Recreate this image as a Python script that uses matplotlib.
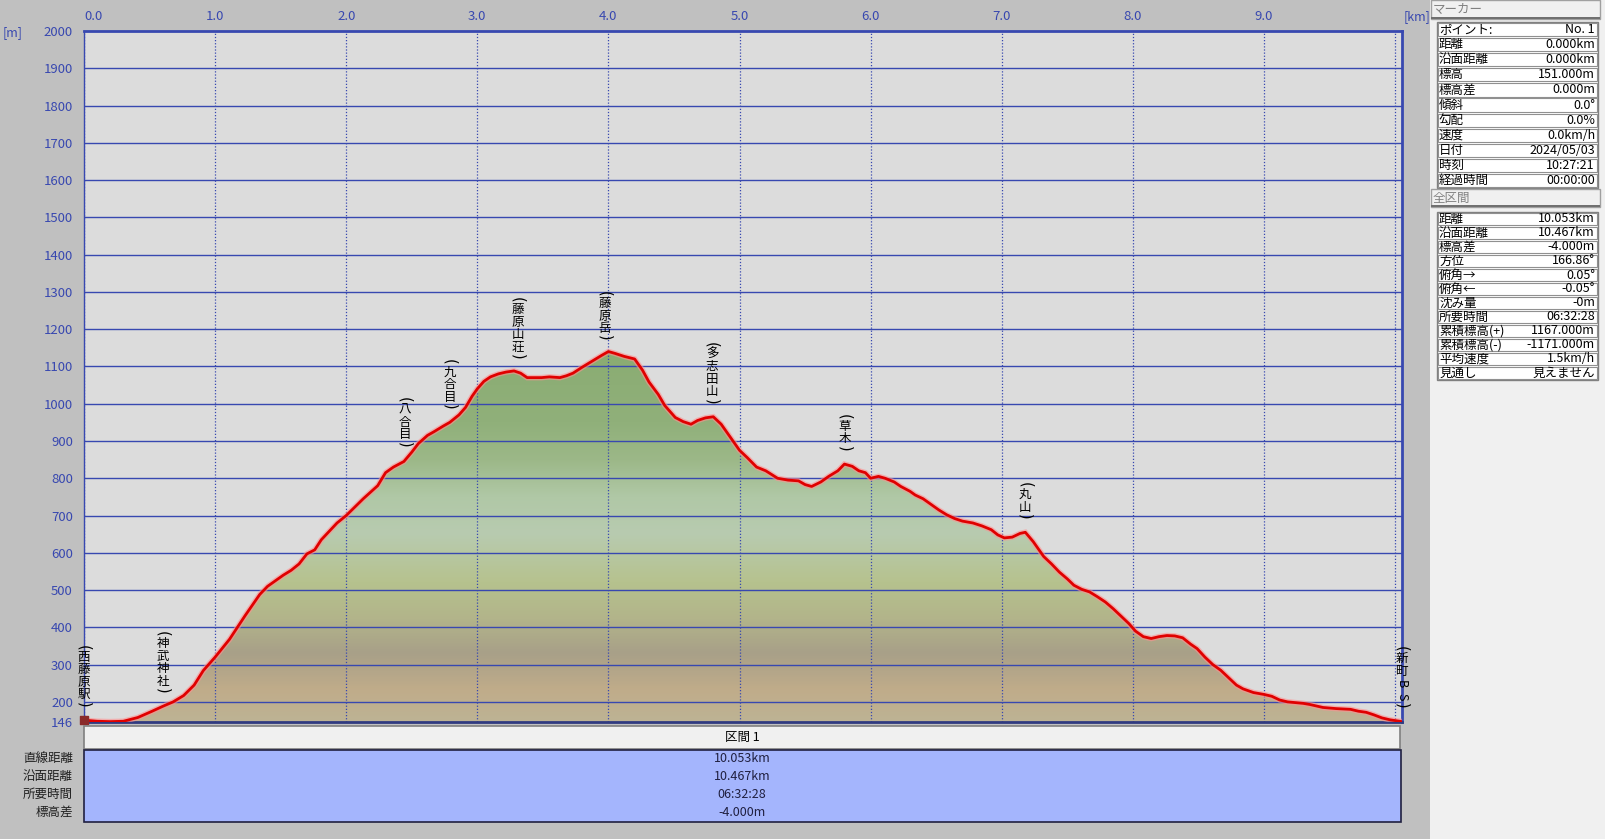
import numpy as np
import matplotlib
matplotlib.use('Agg')
import matplotlib.pyplot as plt
from matplotlib.colors import LinearSegmentedColormap, Normalize
from matplotlib.patches import Rectangle, Polygon

plt.rcParams['font.family'] = ['Noto Sans CJK JP', 'DejaVu Sans']

# ---------------- data ----------------
dist_km = [0.00, 0.10, 0.20, 0.30, 0.41, 0.52, 0.60, 0.68, 0.76, 0.84, 0.91, 1.00,
           1.11, 1.23, 1.34, 1.40, 1.46, 1.52, 1.58, 1.64, 1.70, 1.76, 1.81, 1.93,
           2.00, 2.13, 2.24, 2.30, 2.36, 2.44, 2.50, 2.55, 2.62, 2.67, 2.74, 2.79,
           2.86, 2.91, 2.96, 3.00, 3.05, 3.10, 3.16, 3.22, 3.28, 3.33, 3.38, 3.49,
           3.55, 3.63, 3.68, 3.73, 3.80, 3.88, 3.95, 4.00, 4.05, 4.12, 4.20, 4.26,
           4.31, 4.38, 4.43, 4.48, 4.51, 4.57, 4.63, 4.68, 4.74, 4.80, 4.86, 4.90,
           4.95, 5.00, 5.06, 5.13, 5.20, 5.29, 5.37, 5.45, 5.50, 5.55, 5.62, 5.68,
           5.75, 5.80, 5.86, 5.91, 5.96, 6.00, 6.06, 6.11, 6.18, 6.23, 6.30, 6.34,
           6.40, 6.46, 6.52, 6.58, 6.64, 6.70, 6.78, 6.85, 6.92, 6.97, 7.02, 7.08,
           7.14, 7.18, 7.24, 7.32, 7.38, 7.44, 7.50, 7.55, 7.61, 7.67, 7.73, 7.79,
           7.85, 7.91, 7.97, 8.02, 8.08, 8.14, 8.20, 8.26, 8.32, 8.38, 8.44, 8.49,
           8.55, 8.61, 8.67, 8.73, 8.79, 8.84, 8.92, 9.00, 9.06, 9.12, 9.18, 9.30,
           9.35, 9.45, 9.55, 9.66, 9.72, 9.78, 9.84, 9.90, 9.96, 10.053]
elev_m = [151, 148, 147, 148, 158, 175, 188, 200, 217, 245, 284, 320,
          368, 432, 488, 510, 525, 540, 553, 570, 597, 608, 635, 680,
          700, 745, 780, 815, 830, 845, 870, 893, 915, 925, 940, 950,
          970, 990, 1020, 1040, 1060, 1072, 1080, 1085, 1088, 1082, 1070, 1070,
          1072, 1070, 1075, 1082, 1098, 1115, 1130, 1140, 1135, 1127, 1120, 1090,
          1058, 1025, 995, 975, 963, 952, 945, 955, 962, 965, 945, 925,
          900, 875, 855, 830, 820, 800, 795, 793, 783, 778, 790, 805,
          820, 838, 832, 820, 815, 800, 805, 800, 790, 778, 765, 755,
          745, 730, 715, 702, 692, 685, 680, 672, 662, 648, 640, 642,
          652, 655, 630, 590, 570, 548, 530, 513, 502, 495, 482, 468,
          450, 430, 410, 390, 375, 370, 375, 378, 377, 372, 355, 343,
          320, 300, 285, 265, 245, 235, 225, 220, 215, 205, 200, 196,
          193, 185, 182, 180, 175, 172, 165, 157, 152, 147]

x_ticks = [0, 1, 2, 3, 4, 5, 6, 7, 8, 9]
x_tick_labels = ['0.0', '1.0', '2.0', '3.0', '4.0', '5.0', '6.0', '7.0', '8.0', '9.0']
y_ticks = [146, 200, 300, 400, 500, 600, 700, 800, 900, 1000, 1100, 1200, 1300,
           1400, 1500, 1600, 1700, 1800, 1900, 2000]
y_tick_labels = [str(v) for v in y_ticks]

waypoint_names = ['西藤原駅', '神武神社', '八合目', '九合目', '藤原山荘', '藤原岳',
                  '多志田山', '草木', '丸山', '新町BS']
waypoint_km = [0.0, 0.60, 2.45, 2.79, 3.31, 3.97, 4.79, 5.80, 7.18, 10.05]

section_title = '区間 1'
section_row_labels = ['直線距離', '沿面距離', '所要時間', '標高差']
section_values = ['10.053km', '10.467km', '06:32:28', '-4.000m']

marker_title = 'マーカー'
marker_labels = ['ポイント:', '距離', '沿面距離', '標高', '標高差', '傾斜', '勾配',
                 '速度', '日付', '時刻', '経過時間']
marker_values = ['No. 1', '0.000km', '0.000km', '151.000m', '0.000m', '0.0°', '0.0%',
                 '0.0km/h', '2024/05/03', '10:27:21', '00:00:00']

total_title = '全区間'
total_labels = ['距離', '沿面距離', '標高差', '方位', '俯角→', '俯角←', '沈み量',
                '所要時間', '累積標高(+)', '累積標高(-)', '平均速度', '見通し']
total_values = ['10.053km', '10.467km', '-4.000m', '166.86°', '0.05°', '-0.05°', '-0m',
                '06:32:28', '1167.000m', '-1171.000m', '1.5km/h', '見えません']

# ---------------- figure ----------------
W, H = 1605, 839
fig = plt.figure(figsize=(W / 100, H / 100), dpi=100, facecolor='#c0c0c0')


def fx(px):
    return px / W


def fy(py):
    return 1 - py / H


BLUE = '#3848b0'

L, R, T, B = 84, 1402, 31, 722
ax = fig.add_axes([fx(L), fy(B), (R - L) / W, (B - T) / H])
ax.set_facecolor('#dcdcdc')
xmax = dist_km[-1]
ymin, ymax = 146, 2000

# gradient fill under the profile
stops = [(146, '#bdb394'), (230, '#c0ac8a'), (330, '#a8a088'), (420, '#b2b48a'),
         (520, '#b6c28e'), (650, '#b8cbb0'), (750, '#b0c8a6'), (850, '#9cb888'),
         (950, '#90b07a'), (1150, '#8aac72')]
glo, ghi = stops[0][0], stops[-1][0]
cmap = LinearSegmentedColormap.from_list(
    'elev', [((e - glo) / (ghi - glo), c) for e, c in stops])
grad = np.linspace(glo, ghi, 600).reshape(-1, 1)
im = ax.imshow(grad, extent=[0, xmax, glo, ghi], origin='lower', aspect='auto',
               cmap=cmap, norm=Normalize(glo, ghi), zorder=1, interpolation='bilinear')
verts = list(zip(dist_km, elev_m)) + [(xmax, ymin), (0, ymin)]
clip = Polygon(verts, closed=True, facecolor='none', edgecolor='none',
               transform=ax.transData)
ax.add_patch(clip)
im.set_clip_path(clip)

# grid
for yv in y_ticks[1:-1]:
    ax.axhline(yv, color=BLUE, lw=1.0, zorder=2)
for xv in range(0, 11):
    ax.axvline(xv, color=BLUE, lw=0.9, ls=(0, (1, 1.5)), zorder=2)

# profile line with halo
ax.plot(dist_km, elev_m, color='#ff9090', lw=4.0, alpha=0.6, zorder=3,
        solid_joinstyle='miter')
ax.plot(dist_km, elev_m, color='#e00000', lw=2.0, zorder=4)

ax.set_xlim(0, xmax)
ax.set_ylim(ymin, ymax)

ax.set_yticks(y_ticks)
ax.set_yticklabels(y_tick_labels)
ax.xaxis.tick_top()
ax.set_xticks(x_ticks)
ax.set_xticklabels(x_tick_labels)
ax.tick_params(axis='both', length=0, colors=BLUE, labelsize=9.5)
ax.tick_params(axis='y', pad=8)
ax.tick_params(axis='x', pad=6)
ax.get_xticklabels()[0].set_horizontalalignment('left')
for lab in ax.get_xticklabels() + ax.get_yticklabels():
    lab.set_color(BLUE)

for s in ['top', 'right']:
    ax.spines[s].set_color(BLUE)
    ax.spines[s].set_linewidth(2.0)
ax.spines['left'].set_color(BLUE)
ax.spines['left'].set_linewidth(1.0)
ax.spines['bottom'].set_color('#303a80')
ax.spines['bottom'].set_linewidth(2.0)

fig.text(fx(3), fy(33), '[m]', color=BLUE, fontsize=9, va='center', ha='left')
fig.text(fx(1404), fy(17), '[km]', color=BLUE, fontsize=9, va='center', ha='left')

# start marker (hiker position)
ax.scatter([dist_km[0]], [elev_m[0]], marker='s', s=28, color='#8a2a2a',
           zorder=6, clip_on=False)


# vertical waypoint labels
def vlabel(xk, name):
    yk = float(np.interp(xk, dist_km, elev_m))
    items = ['('] + list(name) + [')']
    off = 12
    seq = []
    for ch in reversed(items):
        h = 7 if ch in '()' else 12.5
        seq.append((ch, off + h / 2))
        off += h
    for ch, yo in seq:
        if ch in '()':
            rot, fs = -90, 10.5
            fam = ['DejaVu Sans']
        elif ch.isascii():
            rot, fs = -90, 9
            fam = ['Noto Sans CJK JP', 'DejaVu Sans']
        else:
            rot, fs = 0, 9
            fam = ['Noto Sans CJK JP', 'DejaVu Sans']
        ax.annotate(ch, xy=(xk, yk), xytext=(0, yo), textcoords='offset pixels',
                    ha='center', va='center', rotation=rot, fontsize=fs,
                    color='black', zorder=7, annotation_clip=False, family=fam)


for nm, xk in zip(waypoint_names, waypoint_km):
    vlabel(xk, nm)

# ---------------- bottom section table ----------------
fig.patches.append(Rectangle((fx(84), fy(749)), (1400 - 84) / W, (749 - 726) / H,
                             transform=fig.transFigure, facecolor='#f0f0f0',
                             edgecolor='#808080', lw=1.2))
fig.text(fx(742), fy(737.5), section_title, fontsize=9, ha='center', va='center',
         color='black')
fig.patches.append(Rectangle((fx(84), fy(822)), (1401 - 84) / W, (822 - 750) / H,
                             transform=fig.transFigure, facecolor='#a4b5fd',
                             edgecolor='#202040', lw=1.2))
row_y = [758, 776.5, 794.5, 812]
for lab, val, yy in zip(section_row_labels, section_values, row_y):
    fig.text(fx(73), fy(yy), lab, fontsize=9, ha='right', va='center', color='#202020')
    fig.text(fx(742), fy(yy), val, fontsize=9, ha='center', va='center', color='#202040')

# ---------------- right info panel ----------------
fig.patches.append(Rectangle((fx(1430), 0), (W - 1430) / W, 1,
                             transform=fig.transFigure, facecolor='#f0f0f0',
                             edgecolor='none'))


def header(y0, y1, title):
    fig.patches.append(Rectangle((fx(1431), fy(y1)), (1600 - 1431) / W, (y1 - y0) / H,
                                 transform=fig.transFigure, facecolor='#f0f0f0',
                                 edgecolor='#a0a0a0', lw=1.0))
    fig.patches.append(Rectangle((fx(1431), fy(y1)), (1600 - 1431) / W, 1.5 / H,
                                 transform=fig.transFigure, facecolor='#707070',
                                 edgecolor='none'))
    fig.text(fx(1433), fy((y0 + y1) / 2), title, fontsize=9, ha='left', va='center',
             color='#808080')


def info_table(y0, rh, labels, values):
    n = len(labels)
    fig.patches.append(Rectangle((fx(1437), fy(y0 + n * rh)), (1598 - 1437) / W,
                                 n * rh / H, transform=fig.transFigure,
                                 facecolor='white', edgecolor='#808080', lw=1.0))
    for i, (lab, val) in enumerate(zip(labels, values)):
        top = y0 + i * rh
        fig.patches.append(Rectangle((fx(1438), fy(top + rh - 1)), (1597 - 1438) / W,
                                     (rh - 2) / H, transform=fig.transFigure,
                                     facecolor='white', edgecolor='#909090', lw=0.8))
        fig.text(fx(1439), fy(top + rh / 2), lab, fontsize=9, ha='left', va='center',
                 color='black')
        fig.text(fx(1595), fy(top + rh / 2), val, fontsize=9, ha='right', va='center',
                 color='black')


header(0, 19, marker_title)
info_table(22, 15.1, marker_labels, marker_values)
header(189, 207, total_title)
info_table(212, 14.0, total_labels, total_values)

fig.savefig('out.png', dpi=100, facecolor=fig.get_facecolor())
